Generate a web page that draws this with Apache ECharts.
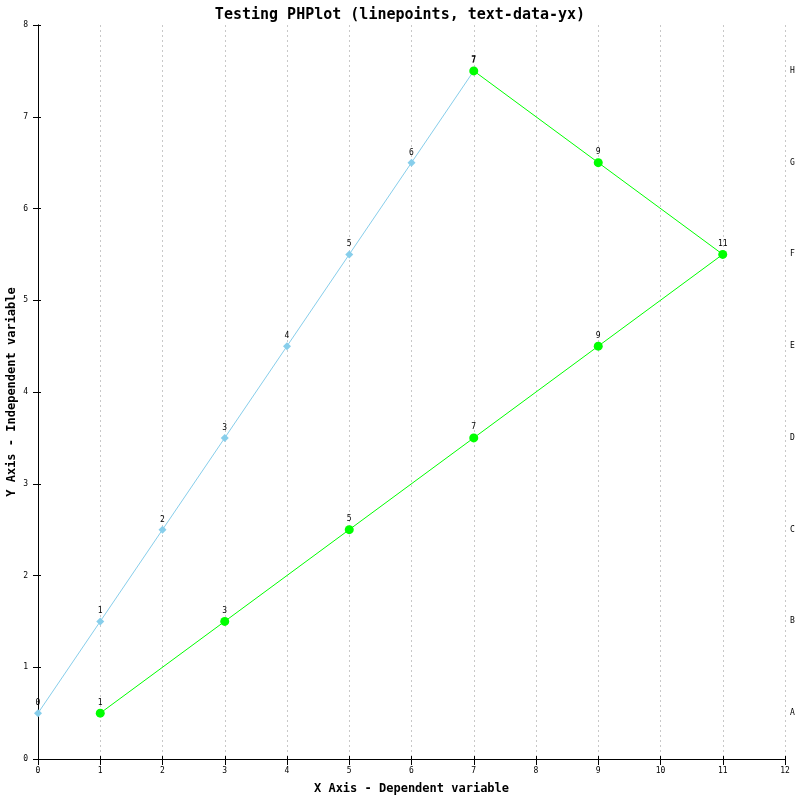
<!DOCTYPE html>
<html><head><meta charset="utf-8">
<script src="https://cdn.jsdelivr.net/npm/echarts@6/dist/echarts.min.js"></script>
<style>html,body{margin:0;padding:0;background:#fff}#c{width:800px;height:800px}</style>
</head><body><div id="c"></div>
<script>
var rowLabels = ['A','B','C','D','E','F','G','H'];
var rowY = [0.5,1.5,2.5,3.5,4.5,5.5,6.5,7.5];
var series1X = [0,1,2,3,4,5,6,7];
var series2X = [1,3,5,7,9,11,9,7];
var titleText = 'Testing PHPlot (linepoints, text-data-yx)';
var xTitle = 'X Axis - Dependent variable';
var yTitle = 'Y Axis - Independent variable';

var FONT = '"DejaVu Sans Mono", "Liberation Mono", monospace';
function pts(xs){ return xs.map(function(x,i){ return [x, rowY[i]]; }); }
var chart = echarts.init(document.getElementById('c'), null, {renderer:'canvas'});
var lblStyle = {show:true, position:'top', distance:2, color:'#000', fontFamily:FONT, fontSize:8,
  formatter:function(p){ return String(p.value[0]); }};
chart.setOption({
  animation:false,
  backgroundColor:'#fff',
  title:{text:titleText, left:'center', top:3, textStyle:{fontFamily:FONT, fontSize:15, fontWeight:'bold', color:'#000'}},
  grid:{left:38, right:15, top:25, bottom:41, containLabel:false, outerBoundsMode:'none'},
  xAxis:[{
    type:'value', min:0, max:12, interval:1, position:'bottom',
    name:xTitle, nameLocation:'middle', nameGap:24, nameMoveOverlap:false,
    nameTextStyle:{fontFamily:FONT, fontSize:12, fontWeight:'bold', color:'#000'},
    axisLine:{show:true, onZero:false, lineStyle:{color:'#000', width:1}},
    axisTick:{show:true, length:6, lineStyle:{color:'#000'}},
    axisLabel:{fontFamily:FONT, fontSize:8, color:'#000', margin:8},
    splitLine:{show:true, lineStyle:{color:'#c8c8c8', type:[2,3], width:1}}
  },{
    type:'value', min:0, max:12, interval:1, position:'bottom',
    axisLine:{show:false}, axisLabel:{show:false}, splitLine:{show:false},
    axisTick:{show:true, inside:true, length:3, lineStyle:{color:'#000'}}
  }],
  yAxis:[{
    type:'value', min:0, max:8, interval:1, position:'left',
    name:yTitle, nameLocation:'middle', nameGap:20, nameRotate:90, nameMoveOverlap:false,
    nameTextStyle:{fontFamily:FONT, fontSize:12, fontWeight:'bold', color:'#000'},
    axisLine:{show:true, onZero:false, lineStyle:{color:'#000', width:1}},
    axisTick:{show:true, length:5, lineStyle:{color:'#000'}},
    axisLabel:{fontFamily:FONT, fontSize:8, color:'#000', margin:10},
    splitLine:{show:false}
  },{
    type:'category', data:rowLabels, position:'right', boundaryGap:true,
    axisLine:{show:true, lineStyle:{color:'#000', width:1}},
    axisTick:{show:false},
    axisLabel:{fontFamily:FONT, fontSize:8, color:'#000', margin:5},
    splitLine:{show:false}
  },{
    type:'value', min:0, max:8, interval:1, position:'left',
    axisLine:{show:false}, axisLabel:{show:false}, splitLine:{show:false},
    axisTick:{show:true, inside:true, length:3, lineStyle:{color:'#000'}}
  }],
  series:[{
    type:'line', data:pts(series1X), xAxisIndex:0, yAxisIndex:0,
    symbol:'diamond', symbolSize:8, itemStyle:{color:'#87ceeb'},
    lineStyle:{color:'#87ceeb', width:1}, label:lblStyle, z:2
  },{
    type:'line', data:pts(series2X), xAxisIndex:0, yAxisIndex:0,
    symbol:'circle', symbolSize:9, itemStyle:{color:'#00ff00'},
    lineStyle:{color:'#00ff00', width:1}, label:lblStyle, z:3
  }]
});
</script></body></html>
